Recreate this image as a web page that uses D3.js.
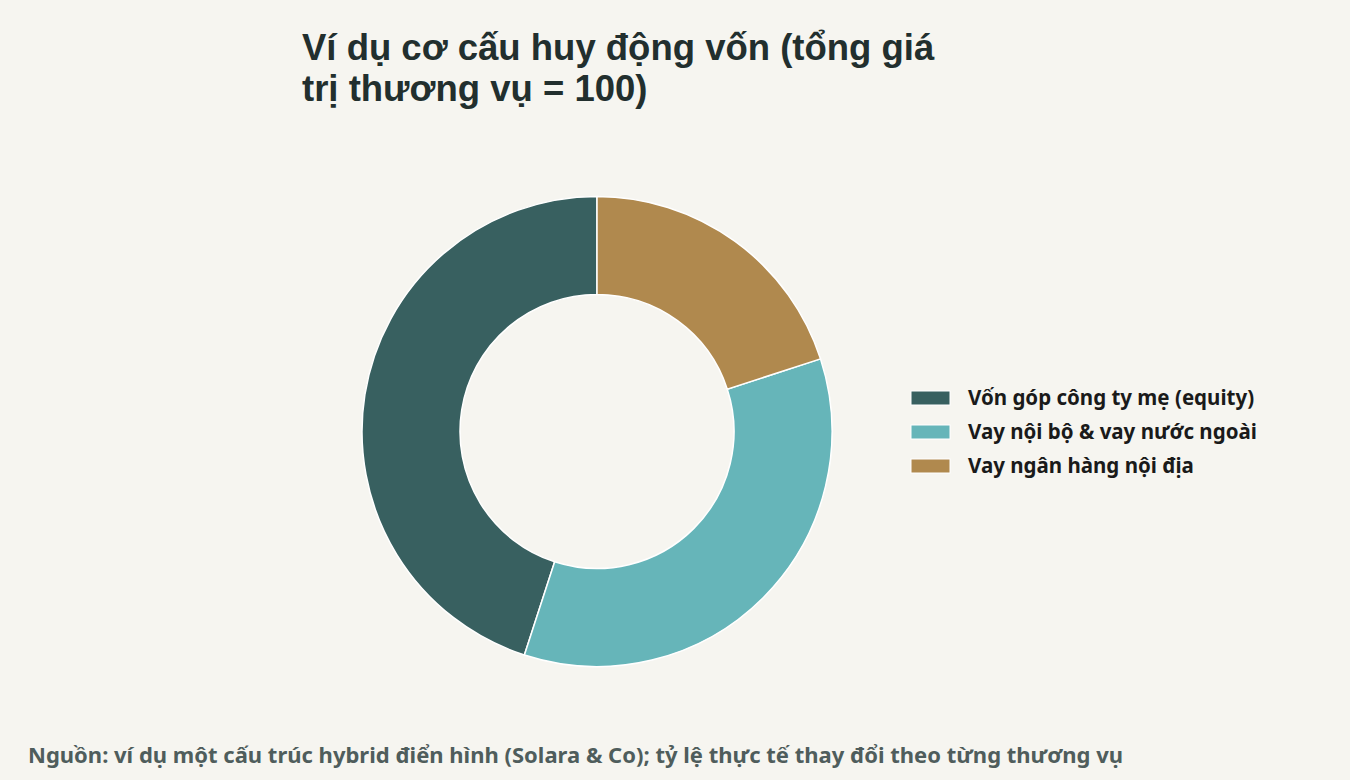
<!DOCTYPE html>
<html>
<head>
<meta charset="utf-8">
<script src="https://cdn.jsdelivr.net/npm/d3@7"></script>
<style>
  body { margin: 0; background: #f6f5f0; }
  text { font-family: "Noto Sans", sans-serif; }
</style>
</head>
<body>
<div id="chart"></div>
<script>
// chart data
var labels = ["Vốn góp công ty mẹ (equity)", "Vay nội bộ & vay nước ngoài", "Vay ngân hàng nội địa"];
var values = [45, 35, 20];
var colors = ["#386060", "#66b5b9", "#b0894e"];
var titleLines = ["Ví dụ cơ cấu huy động vốn (tổng giá", "trị thương vụ = 100)"];
var sourceText = "Nguồn: ví dụ một cấu trúc hybrid điển hình (Solara & Co); tỷ lệ thực tế thay đổi theo từng thương vụ";

var svgWidth = 1350;
var svgHeight = 780;

var svg = d3.select("#chart")
  .append("svg")
  .attr("width", svgWidth)
  .attr("height", svgHeight);

svg.append("rect")
  .attr("width", svgWidth)
  .attr("height", svgHeight)
  .attr("fill", "#f6f5f0");

// title, two lines (Liberation Sans keeps the line boxes from colliding)
svg.append("g")
  .selectAll("text")
  .data(titleLines)
  .enter()
  .append("text")
  .attr("x", 302)
  .attr("y", (d, i) => 60 + i * 41)
  .attr("fill", "#222f2e")
  .style("font-family", "'Liberation Sans', Arial, sans-serif")
  .attr("font-size", "36.5px")
  .attr("font-weight", "bold")
  .text(d => d);

// donut
var cx = 597, cy = 431.5;
var outerR = 235, innerR = 137;

// start at 12 o'clock, going counterclockwise
var pie = d3.pie()
  .sort(null)
  .startAngle(0)
  .endAngle(-2 * Math.PI);

var arc = d3.arc()
  .innerRadius(innerR)
  .outerRadius(outerR);

var pieGroup = svg.append("g")
  .attr("transform", `translate(${cx}, ${cy})`);

pieGroup.selectAll("path")
  .data(pie(values))
  .enter()
  .append("path")
  .attr("d", arc)
  .attr("fill", (d, i) => colors[i])
  .attr("stroke", "#ffffff")
  .attr("stroke-width", 1.5);

// legend
var legend = svg.append("g")
  .attr("transform", "translate(911, 398)");

var rows = legend.selectAll("g")
  .data(labels)
  .enter()
  .append("g")
  .attr("transform", (d, i) => `translate(0, ${i * 34})`);

rows.append("rect")
  .attr("x", 0)
  .attr("y", -7)
  .attr("width", 39)
  .attr("height", 14)
  .attr("fill", (d, i) => colors[i])
  .attr("stroke", "#ffffff")
  .attr("stroke-width", 1);

rows.append("text")
  .attr("x", 57)
  .attr("y", 7)
  .attr("fill", "#1a1a1a")
  .attr("font-size", "20.5px")
  .attr("font-weight", "bold")
  .text(d => d);

// source note
svg.append("text")
  .attr("x", 28)
  .attr("y", 763)
  .attr("fill", "#4f5d5c")
  .attr("font-size", "22px")
  .attr("font-weight", "bold")
  .text(sourceText);
</script>
</body>
</html>
